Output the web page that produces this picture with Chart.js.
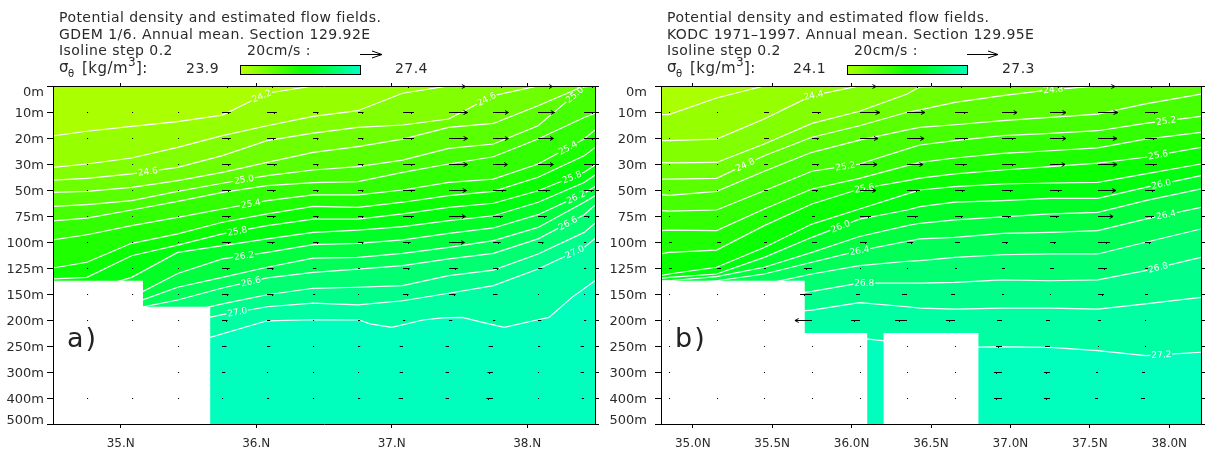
<!DOCTYPE html>
<html>
<head>
<meta charset="utf-8">
<title>Potential density sections</title>
<script src="https://cdn.jsdelivr.net/npm/chart.js@4"></script>
<style>
    body { margin: 0; background: #fff; }
    canvas { position: absolute; top: 0; }
    #panelA { left: 0; }
    #panelB { left: 603px; }
</style>
</head>
<body>
<canvas id="panelA" width="603" height="455"></canvas>
<canvas id="panelB" width="602" height="455"></canvas>
<script>
// depth levels are evenly spaced on the plot, so y values below are level positions (0 = 0m, 13 = 500m)
const depthLabels = ["0m", "10m", "20m", "30m", "50m", "75m", "100m", "125m", "150m", "200m", "250m", "300m", "400m", "500m"];
const isoValues = [24.2, 24.4, 24.6, 24.8, 25.0, 25.2, 25.4, 25.6, 25.8, 26.0, 26.2, 26.4, 26.6, 26.8, 27.0, 27.2];

// Panel a
const lonTicksA = [35, 36, 37, 38];
const lonLabelsA = ["35.N", "36.N", "37.N", "38.N"];
const isoLonsA = [34.5, 34.75, 35.08, 35.42, 35.75, 36.08, 36.42, 36.75, 37.08, 37.42, 37.75, 38.08, 38.42, 38.5];
const isoA = [
    [1.92, 1.74, 1.55, 1.37, 1.12, 0.28, 0, 0, 0, 0, 0, 0, 0, 0],
    [3.13, 3.00, 2.77, 2.36, 1.91, 1.53, 1.17, 0.95, 0.28, 0, 0, 0, 0, 0],
    [3.62, 3.55, 3.38, 3.13, 2.68, 2.10, 1.81, 1.59, 1.50, 1.27, 0.37, 0, 0, 0],
    [4.09, 4.05, 3.90, 3.64, 3.32, 2.94, 2.55, 2.33, 2.04, 1.59, 1.44, 0.76, 0, 0],
    [4.63, 4.56, 4.41, 4.05, 3.74, 3.45, 3.23, 3.10, 2.85, 2.40, 2.23, 1.53, 0.03, 0],
    [5.19, 5.08, 4.77, 4.44, 4.09, 3.83, 3.72, 3.68, 3.32, 3.00, 2.72, 2.04, 1.21, 1.05],
    [5.92, 5.72, 5.37, 5.05, 4.73, 4.41, 4.19, 4.19, 4.00, 3.71, 3.58, 3.00, 2.04, 1.69],
    [7.00, 6.78, 6.05, 5.69, 5.24, 4.92, 4.63, 4.67, 4.47, 4.22, 4.05, 3.51, 2.68, 2.37],
    [7.42, 7.36, 6.53, 6.12, 5.69, 5.37, 5.12, 5.12, 4.92, 4.67, 4.51, 4.03, 3.32, 3.04],
    [7.87, 7.87, 7.36, 6.40, 6.14, 5.88, 5.63, 5.54, 5.41, 5.18, 4.99, 4.47, 3.71, 3.42],
    [8.13, 8.13, 8.13, 7.21, 6.65, 6.40, 6.10, 6.05, 5.92, 5.67, 5.46, 4.95, 4.13, 3.87],
    [8.38, 8.38, 8.38, 7.74, 7.36, 6.97, 6.62, 6.59, 6.44, 6.21, 5.95, 5.44, 4.47, 4.22],
    [8.64, 8.64, 8.58, 8.23, 7.77, 7.38, 7.17, 7.04, 6.91, 6.65, 6.44, 5.88, 4.95, 4.58],
    [8.90, 8.90, 8.90, 8.77, 8.38, 8.03, 7.78, 7.74, 7.68, 7.29, 7.08, 6.46, 5.63, 5.28],
    [9.15, 9.15, 9.15, 9.15, 8.79, 8.49, 8.35, 8.42, 8.26, 7.97, 7.68, 7.04, 6.21, 5.86]
];
// the 27.2 line has more bends than the others
const iso272LonsA = [34.5, 35.66, 36.08, 36.41, 36.76, 36.84, 37.0, 37.23, 37.37, 37.52, 37.67, 37.83, 38.07, 38.16, 38.33, 38.5];
const iso272A = [9.67, 9.67, 9.03, 8.99, 9.0, 9.15, 9.28, 9.0, 8.92, 8.9, 9.09, 9.28, 9.0, 8.9, 8.13, 7.49];
const maskLonsA = [34.5, 35.164, 35.164, 35.662, 35.662];
const maskLevelsA = [7.49, 7.49, 8.49, 8.49, 13];
const isoLabelValuesA = [24.2, 24.6, 24.6, 25.0, 25.0, 25.4, 25.4, 25.8, 25.8, 26.2, 26.2, 26.6, 26.6, 27.0, 27.0];
const isoLabelLonsA = [36.04, 35.2, 37.7, 35.91, 38.35, 35.96, 38.3, 35.86, 38.33, 35.91, 38.36, 35.96, 38.3, 35.86, 38.35];
const arrowLonsA = [34.75, 35.08, 35.42, 35.75, 36.08, 36.42, 36.75, 37.08, 37.42, 37.75, 38.08, 38.42];
// eastward speed in cm/s, one row per depth level from 0m to 400m
const speedA = [
    [1, 1, 1, 6, 6, 4, 4, 7, 15, 11, 13, 10],
    [1, 1, 1, 8, 9, 5, 5, 10, 17, 14, 15, 11],
    [1, 1, 1, 8, 8, 5, 5, 10, 17, 14, 14, 11],
    [1, 1, 1, 8, 9, 5, 5, 11, 17, 13, 14, 11],
    [1, 1, 1, 8, 8, 5, 5, 11, 16, 12, 11, 9],
    [1, 1, 1, 8, 8, 5, 5, 10, 15, 9, 8, 5],
    [1, 1, 1, 8, 7, 5, 5, 7, 14, 7, 5, 2],
    [1, 1, 1, 7, 6, 3, 2, 6, 8, 5, 4, 2],
    [1, 1, 1, 6, 6, 2, 1, 5, 6, 4, 1, 1],
    [1, 1, 1, 5, 3, 1, 2, 2, 3, 2, 3, 2],
    [null, null, 1, 4, 3, 1, 2, -3, -3, -4, 2, -3],
    [null, null, 1, 3, 1, 1, 1, -3, -3, -5, 1, -3],
    [1, 1, 1, 1, 2, 1, 2, -4, -3, -6, 1, -2]
];

// Panel b
const lonTicksB = [35, 35.5, 36, 36.5, 37, 37.5, 38];
const lonLabelsB = ["35.0N", "35.5N", "36.0N", "36.5N", "37.0N", "37.5N", "38.0N"];
const isoLonsB = [34.8, 34.85, 35.15, 35.45, 35.75, 36.05, 36.35, 36.43, 36.65, 36.95, 37.25, 37.55, 37.85, 38.2];
const isoB = [
    [1.10, 1.10, 0.46, 0, 0, 0, 0, 0, 0, 0, 0, 0, 0, 0],
    [2.10, 2.10, 2.04, 1.27, 0.37, 0, 0, 0, 0, 0, 0, 0, 0, 0],
    [2.95, 2.96, 2.94, 2.23, 1.44, 0.97, 0.31, 0.03, 0, 0, 0, 0, 0, 0],
    [3.58, 3.58, 3.55, 2.68, 1.97, 1.53, 1.01, 0.92, 0.63, 0.37, 0.15, 0, 0, 0],
    [4.18, 4.21, 4.05, 3.28, 2.55, 2.08, 1.69, 1.59, 1.49, 1.33, 1.21, 1.08, 0.69, 0.31],
    [4.79, 4.81, 4.77, 4.03, 3.28, 3.00, 2.42, 2.27, 2.10, 1.91, 1.82, 1.72, 1.44, 1.17],
    [5.56, 5.54, 5.56, 4.73, 3.96, 3.55, 3.06, 2.94, 2.77, 2.59, 2.49, 2.38, 2.04, 1.78],
    [6.46, 6.40, 6.31, 5.37, 4.54, 3.96, 3.64, 3.54, 3.38, 3.23, 3.10, 2.97, 2.74, 2.36],
    [7.29, 7.23, 6.97, 6.21, 5.31, 4.73, 4.15, 4.00, 3.87, 3.77, 3.73, 3.71, 3.38, 3.00],
    [7.40, 7.36, 7.23, 6.59, 5.82, 5.12, 4.77, 4.64, 4.47, 4.41, 4.32, 4.32, 3.90, 3.45],
    [7.49, 7.49, 7.33, 6.97, 6.40, 5.79, 5.37, 5.28, 5.15, 5.03, 4.92, 4.86, 4.41, 3.96],
    [7.62, 7.62, 7.49, 7.23, 6.78, 6.33, 5.97, 5.88, 5.82, 5.67, 5.63, 5.56, 5.12, 4.67],
    [7.68, 7.68, 7.68, 7.62, 7.23, 6.91, 6.74, 6.72, 6.59, 6.49, 6.46, 6.46, 6.01, 5.50],
    [8.13, 8.13, 8.13, 8.13, 7.90, 7.58, 7.58, 7.58, 7.55, 7.46, 7.49, 7.46, 7.10, 6.59],
    [8.77, 8.77, 8.77, 8.77, 8.62, 8.33, 8.49, 8.54, 8.58, 8.54, 8.54, 8.58, 8.38, 8.13],
    [9.7, 9.7, 9.7, 9.7, 9.7, 9.7, 9.9, 9.95, 10.05, 10.03, 10.05, 10.18, 10.37, 10.24]
];
const maskLonsB = [34.8, 35.705, 35.705, 36.1, 36.1];
const maskLevelsB = [7.49, 7.49, 9.5, 9.5, 13];
const mask2LonsB = [36.2, 36.8, 36.8];
const mask2LevelsB = [9.5, 9.5, 13];
const isoLabelValuesB = [24.4, 24.8, 24.8, 25.2, 25.2, 25.6, 25.6, 26.0, 26.0, 26.4, 26.4, 26.8, 26.8, 27.2];
const isoLabelLonsB = [35.76, 35.33, 37.27, 35.96, 37.98, 36.08, 37.93, 35.93, 37.95, 36.05, 37.98, 36.08, 37.93, 37.95];
const arrowLonsB = [34.85, 35.15, 35.45, 35.75, 36.05, 36.35, 36.65, 36.95, 37.25, 37.55, 37.85];
const speedB = [
    [0.6, 0.6, 1.9, 3.2, 10.3, 9, 5.8, 7.1, 7.7, 11, 5.8],
    [0.6, 0.6, 3.2, 5.8, 12.9, 11.6, 8.4, 9.7, 10.3, 12.9, 8.4],
    [0.6, 0.6, 3.2, 4.5, 11.6, 11, 8.4, 9, 10.3, 12.3, 7.7],
    [0.6, 0.6, 2.6, 4.5, 11, 10.3, 7.7, 9, 9.7, 12.3, 7.7],
    [0.6, 0.6, 2.6, 3.9, 10.3, 8.4, 6.5, 7.1, 7.7, 11.6, 6.5],
    [0.6, 0.6, 1.9, 1.9, 7.1, 7.1, 5.2, 5.8, 5.8, 9.7, 5.8],
    [1.9, 2.6, 1.9, 3.2, 4.5, 3.9, 3.2, 3.9, 3.9, 7.7, 3.9],
    [1.9, 2.6, 1.3, -5.2, 0.6, 0.6, 1.3, 1.9, 2.6, 5.8, 1.9],
    [0.6, 0.6, 0.6, -7.7, -2.6, -3.2, -2.6, 1.3, 0.6, 3.9, 1.9],
    [0.6, 0.6, 0.6, -11, -5.8, -7.7, -5.8, -3.2, -2.6, 1.9, 0.6],
    [0.6, null, 0.6, 0.6, 0.6, 0.6, 0.6, -3.9, -3.2, 0.6, 0.6],
    [0.6, null, 0.6, 0.6, 0.6, 0.6, 0.6, -5.2, -3.9, -1.3, -1.9],
    [0.6, 0.6, 0.6, 0.6, 0.6, 0.6, 0.6, -5.2, -3.9, -1.9, -2.6]
];

const FONT = '"DejaVu Sans"';
const TEXT_COLOR = "#2a2a2a";

// density to colour: yellow-green, through pure green, to sea green
function colorFor(d) {
    let r = 0, b = 0;
    if (d < 25.8) r = Math.max(0, (25.8 - d) / 1.9 * 190);
    else b = Math.min(200, (d - 25.8) / 1.6 * 200);
    return `rgb(${Math.round(r)},255,${Math.round(b)})`;
}

function levelAt(xs, ys, lon) {
    for (let i = 1; i < xs.length; i++) {
        if (lon <= xs[i]) {
            let t = (lon - xs[i - 1]) / (xs[i] - xs[i - 1]);
            return ys[i - 1] + t * (ys[i] - ys[i - 1]);
        }
    }
    return ys[ys.length - 1];
}

// field arrows: plain dash, a small barb under it, a real head only on the long ones
function drawFieldArrow(ctx, x0, y, len) {
    let tip = x0 + len;
    let size = Math.abs(len);
    let dir = len < 0 ? -1 : 1;
    ctx.beginPath();
    ctx.moveTo(x0, y);
    ctx.lineTo(Math.abs(len) < 1 ? x0 + 1 : tip, y);
    if (size >= 14) {
        let hl = size * 0.22;
        ctx.moveTo(tip - dir * hl, y - 2);
        ctx.lineTo(tip, y);
        ctx.lineTo(tip - dir * hl, y + 2);
    } else if (size >= 5) {
        let bx = Math.round(tip - dir * size * 0.3) + 0.5;
        ctx.moveTo(bx, y);
        ctx.lineTo(bx, y + 1.5);
    }
    ctx.stroke();
}

function drawKeyArrow(ctx, x0, y, len) {
    let tip = x0 + len;
    ctx.beginPath();
    ctx.moveTo(x0, y);
    ctx.lineTo(tip, y);
    ctx.moveTo(tip - 10, y - 3.5);
    ctx.lineTo(tip, y);
    ctx.lineTo(tip - 10, y + 3.5);
    ctx.stroke();
}

function text(ctx, str, x, y, size, align) {
    ctx.font = `${size}px ${FONT}`;
    ctx.textAlign = align || "left";
    ctx.textBaseline = "middle";
    ctx.fillText(str, x, y);
    return ctx.measureText(str).width;
}

const panelPlugin = {
    id: "panel",
    afterDatasetsDraw(chart, args, opts) {
        let ctx = chart.ctx, xs = chart.scales.x, ys = chart.scales.y;
        ctx.save();

        // isoline labels, each one sits in a small gap of its line
        opts.labelValues.forEach((val, i) => {
            let k = opts.values.indexOf(val);
            let lon = opts.labelLons[i];
            let lx = opts.lineLons(k), ly = opts.lines(k);
            let px = xs.getPixelForValue(lon), py = ys.getPixelForValue(levelAt(lx, ly, lon));
            let p2 = xs.getPixelForValue(lon + 0.05), q2 = ys.getPixelForValue(levelAt(lx, ly, lon + 0.05));
            ctx.save();
            ctx.translate(px, py);
            ctx.rotate(Math.atan2(q2 - py, p2 - px));
            ctx.fillStyle = colorFor(val);
            ctx.fillRect(-11, -2, 22, 4);
            ctx.fillStyle = "#fff";
            text(ctx, val.toFixed(1), 0, 0.5, 9, "center");
            ctx.restore();
        });

        // velocity arrows, rows run from the 0m level downwards
        ctx.strokeStyle = "#000";
        ctx.lineWidth = 1;
        opts.speed.forEach((row, level) => {
            let y = Math.round(ys.getPixelForValue(level)) + 0.5;
            row.forEach((u, j) => {
                if (u === null) return;
                drawFieldArrow(ctx, Math.round(xs.getPixelForValue(opts.arrowLons[j])), y, u * opts.pxPerCm);
            });
        });

        // panel letter
        ctx.fillStyle = "#222";
        ctx.letterSpacing = "2px";
        text(ctx, opts.letter, xs.left + 14, ys.getPixelForValue(9.5) + 7, 27);
        ctx.letterSpacing = "0px";
        ctx.restore();
    },
    afterDraw(chart, args, opts) {
        let ctx = chart.ctx, ys = chart.scales.y;
        ctx.save();
        ctx.fillStyle = TEXT_COLOR;

        // depth labels sit a little under their ticks, first and last pulled inside
        depthLabels.forEach((lab, i) => {
            let off = i === 0 ? 7 : i === depthLabels.length - 1 ? -3 : 2;
            text(ctx, lab, chart.scales.y.left + 44, ys.getPixelForValue(i) + off, 13, "right");
        });

        // header block
        let tx = opts.textX;
        ctx.letterSpacing = "0.45px";
        text(ctx, "Potential density and estimated flow fields.", tx, 18, 14);
        text(ctx, opts.title2, tx, 35, 14);
        text(ctx, "Isoline step 0.2", tx, 51, 14);
        text(ctx, "20cm/s :", opts.speedX, 51, 14);
        ctx.strokeStyle = "#000";
        ctx.lineWidth = 1;
        drawKeyArrow(ctx, opts.arrowX, 54.5, 20 * opts.pxPerCm);

        let w = text(ctx, "\u03c3", tx, 68, 15);
        text(ctx, "\u03b8", tx + w - 1, 74, 10);
        let x = tx + 23;
        x += text(ctx, "[kg/m", x, 69, 15);
        x += text(ctx, "3", x, 63, 12);
        text(ctx, "]:", x, 69, 15);

        text(ctx, opts.rangeMin.toFixed(1), opts.barX - 21, 69, 14, "right");
        text(ctx, opts.rangeMax.toFixed(1), opts.barX + 155, 69, 14);
        ctx.letterSpacing = "0px";
        let grad = ctx.createLinearGradient(opts.barX, 0, opts.barX + 121, 0);
        for (let i = 0; i <= 10; i++) {
            grad.addColorStop(i / 10, colorFor(opts.rangeMin + (opts.rangeMax - opts.rangeMin) * i / 10));
        }
        ctx.fillStyle = grad;
        ctx.fillRect(opts.barX, 65, 121, 10);
        ctx.strokeStyle = "#000";
        ctx.strokeRect(opts.barX + 0.5, 65.5, 120, 9);
        ctx.restore();
    }
};

function lineOnly(lons, levels) {
    // drop the parts where an isoline has left through the top of the section
    let pts = [];
    levels.forEach((v, i) => {
        if (v === 0 && i > 0 && levels[i - 1] === 0) return;
        pts.push({ x: lons[i], y: v });
    });
    return pts;
}

function makePanel(id, cfg) {
    let pts = (lons, levels) => lons.map((x, i) => ({ x: x, y: levels[i] }));
    let lineLons = k => k < cfg.iso.length ? cfg.isoLons : cfg.extraLons;
    let lines = k => k < cfg.iso.length ? cfg.iso[k] : cfg.extraLine;
    let lo = cfg.isoLons[0], hi = cfg.isoLons[cfg.isoLons.length - 1];

    let bands = [{
        data: [{ x: lo, y: 0 }, { x: hi, y: 0 }],
        fill: "+1",
        backgroundColor: colorFor(isoValues[0] - 0.1),
        borderWidth: 0,
        pointRadius: 0,
        order: 3
    }];
    let outlines = [];
    isoValues.forEach((val, k) => {
        let last = k === isoValues.length - 1;
        bands.push({
            data: pts(lineLons(k), lines(k)),
            fill: last ? { value: 13 } : "+1",
            backgroundColor: colorFor(val + 0.1),
            borderWidth: 0,
            pointRadius: 0,
            order: 3
        });
        outlines.push({
            data: lineOnly(lineLons(k), lines(k)),
            fill: false,
            borderColor: "#fff",
            borderWidth: 1.2,
            pointRadius: 0,
            order: 2
        });
    });
    let masks = cfg.masks.map(m => ({
        data: pts(m[0], m[1]),
        fill: { value: 13 },
        backgroundColor: "#fff",
        borderWidth: 0,
        pointRadius: 0,
        order: 1
    }));

    let setLonTicks = scale => { scale.ticks = cfg.lonTicks.map(v => ({ value: v })); };
    let setDepthTicks = scale => { scale.ticks = depthLabels.map((d, i) => ({ value: i })); };
    let gridOf = len => ({ drawOnChartArea: false, color: "#000", tickLength: len, tickWidth: 1 });
    let border = { color: "#000", z: 1, width: 1 };

    new Chart(document.getElementById(id), {
        type: "line",
        data: { datasets: bands.concat(outlines, masks) },
        plugins: [panelPlugin],
        options: {
            responsive: false,
            animation: false,
            events: [],
            layout: { padding: 0 },
            plugins: {
                legend: { display: false },
                tooltip: { enabled: false },
                panel: Object.assign({ values: isoValues, lineLons: lineLons, lines: lines }, cfg.panel)
            },
            scales: {
                x: {
                    type: "linear", position: "bottom", min: lo, max: hi,
                    afterBuildTicks: setLonTicks,
                    afterFit: s => { s.height = 31; },
                    grid: gridOf(4), border: border,
                    ticks: {
                        autoSkip: false, maxRotation: 0, padding: 9, color: TEXT_COLOR,
                        font: { family: "DejaVu Sans", size: 12 },
                        callback: v => cfg.lonLabels[cfg.lonTicks.indexOf(v)]
                    }
                },
                x2: {
                    type: "linear", position: "top", min: lo, max: hi,
                    afterBuildTicks: setLonTicks,
                    afterFit: s => { s.height = 86; },
                    grid: gridOf(3), border: border,
                    ticks: { display: false }
                },
                y: {
                    type: "linear", position: "left", reverse: true, min: 0, max: 13,
                    afterBuildTicks: setDepthTicks,
                    afterFit: s => { s.width = cfg.leftWidth; },
                    grid: gridOf(6), border: border,
                    ticks: { display: false }
                },
                y2: {
                    type: "linear", position: "right", reverse: true, min: 0, max: 13,
                    afterBuildTicks: setDepthTicks,
                    afterFit: s => { s.width = cfg.rightWidth; },
                    grid: gridOf(4), border: border,
                    ticks: { display: false }
                }
            }
        }
    });
}

makePanel("panelA", {
    leftWidth: 53, rightWidth: 8,
    lonTicks: lonTicksA, lonLabels: lonLabelsA,
    isoLons: isoLonsA, iso: isoA, extraLons: iso272LonsA, extraLine: iso272A,
    masks: [[maskLonsA, maskLevelsA]],
    panel: {
        speed: speedA, arrowLons: arrowLonsA, pxPerCm: 1.1, letter: "a)",
        labelValues: isoLabelValuesA, labelLons: isoLabelLonsA,
        textX: 59, speedX: 247, arrowX: 360, barX: 240,
        title2: "GDEM 1/6. Annual mean. Section 129.92E",
        rangeMin: 23.9, rangeMax: 27.4
    }
});

makePanel("panelB", {
    leftWidth: 58, rightWidth: 4,
    lonTicks: lonTicksB, lonLabels: lonLabelsB,
    isoLons: isoLonsB, iso: isoB.slice(0, 15), extraLons: isoLonsB, extraLine: isoB[15],
    masks: [[maskLonsB, maskLevelsB], [mask2LonsB, mask2LevelsB]],
    panel: {
        speed: speedB, arrowLons: arrowLonsB, pxPerCm: 1.55, letter: "b)",
        labelValues: isoLabelValuesB, labelLons: isoLabelLonsB,
        textX: 64, speedX: 251, arrowX: 364, barX: 244,
        title2: "KODC 1971\u20131997. Annual mean. Section 129.95E",
        rangeMin: 24.1, rangeMax: 27.3
    }
});
</script>
</body>
</html>
